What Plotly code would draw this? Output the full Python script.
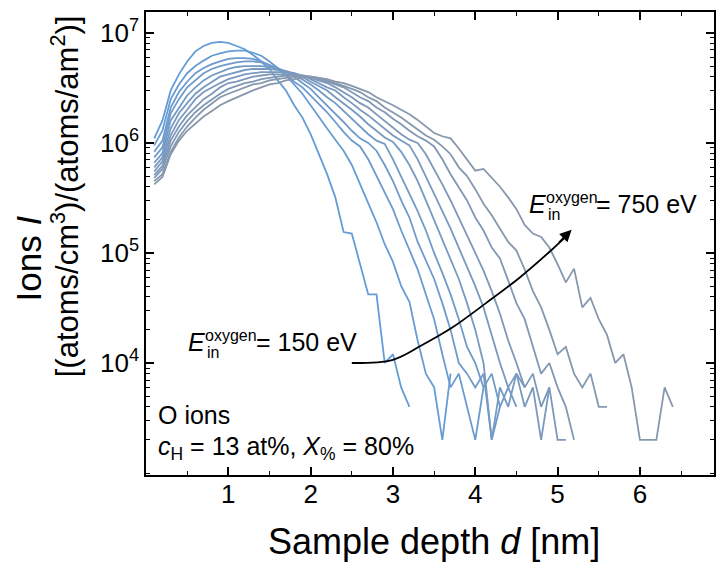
import plotly.graph_objects as go

# ---------------- data ----------------
depth_nm = [0.1, 0.2, 0.3, 0.4, 0.5, 0.6, 0.7, 0.8, 0.9, 1.0,
            1.1, 1.2, 1.3, 1.4, 1.5, 1.6, 1.7, 1.8, 1.9, 2.0,
            2.1, 2.2, 2.3, 2.4, 2.5, 2.6, 2.7, 2.8, 2.9, 3.0,
            3.1, 3.2, 3.3, 3.4, 3.5, 3.6, 3.7, 3.8, 3.9, 4.0,
            4.1, 4.2, 4.3, 4.4, 4.5, 4.6, 4.7, 4.8, 4.9, 5.0,
            5.1, 5.2, 5.3, 5.4, 5.5, 5.6, 5.7, 5.8, 5.9, 6.0,
            6.1, 6.2, 6.3, 6.4]

energies_eV = [150, 210, 270, 330, 390, 450, 510, 570, 630, 690, 750]

ions_150 = [1.1e6, 1.6e6, 3.0e6, 4.2e6, 5.5e6, 6.8e6, 7.6e6, 8.1e6, 8.3e6, 8.1e6,
            7.6e6, 7.1e6, 6.3e6, 5.5e6, 4.7e6, 3.7e6, 3.0e6, 2.2e6, 1.7e6, 1.2e6,
            7.9e5, 5.2e5, 3.2e5, 1.55e5, 1.5e5, 7.9e4, 4.2e4, 4.2e4, 1.0e4, 1.2e4,
            6000, 4000]
ions_210 = [9.5e5, 1.3e6, 2.5e6, 3.4e6, 4.3e6, 5.0e6, 5.6e6, 6.2e6, 6.5e6, 6.8e6,
            6.9e6, 6.9e6, 6.6e6, 6.2e6, 5.5e6, 4.8e6, 4.1e6, 3.4e6, 2.8e6, 2.2e6,
            1.7e6, 1.35e6, 1.07e6, 8.5e5, 6.3e5, 4.2e5, 2.8e5, 1.9e5, 1.2e5, 8.3e4,
            5.0e4, 3.6e4, 1.6e4, 8000, 6000, 2000, 8000]
ions_270 = [8.3e5, 1.05e6, 2.1e6, 2.9e6, 3.6e6, 4.3e6, 4.8e6, 5.2e6, 5.5e6, 5.8e6,
            5.9e6, 5.9e6, 5.8e6, 5.5e6, 5.1e6, 4.7e6, 4.2e6, 3.6e6, 3.2e6, 2.7e6,
            2.3e6, 1.9e6, 1.55e6, 1.26e6, 1.05e6, 9.3e5, 7.1e5, 5.0e5, 3.5e5, 2.5e5,
            1.6e5, 1.05e5, 7.1e4, 4.2e4, 2.5e4, 1.2e4, 6000, 8000, 4000, 2000,
            6000]
ions_330 = [7.4e5, 9.1e5, 1.86e6, 2.5e6, 3.2e6, 3.7e6, 4.3e6, 4.7e6, 5.0e6, 5.2e6,
            5.4e6, 5.5e6, 5.5e6, 5.4e6, 5.1e6, 4.8e6, 4.4e6, 4.0e6, 3.5e6, 3.1e6,
            2.6e6, 2.2e6, 1.86e6, 1.55e6, 1.29e6, 1.1e6, 1.0e6, 8.5e5, 6.3e5, 4.5e5,
            3.0e5, 2.1e5, 1.26e5, 8.5e4, 5.8e4, 3.5e4, 2.0e4, 1.0e4, 8000, 6000,
            8000, 2000, 4000]
ions_390 = [6.6e5, 8.1e5, 1.6e6, 2.1e6, 2.7e6, 3.2e6, 3.7e6, 4.1e6, 4.4e6, 4.7e6,
            4.9e6, 5.0e6, 5.0e6, 5.0e6, 4.9e6, 4.7e6, 4.5e6, 4.2e6, 3.8e6, 3.4e6,
            3.0e6, 2.6e6, 2.3e6, 1.95e6, 1.66e6, 1.41e6, 1.2e6, 1.05e6, 9.8e5, 7.1e5,
            5.0e5, 3.5e5, 2.4e5, 1.6e5, 1.0e5, 6.6e4, 4.2e4, 2.5e4, 1.4e4, 1.0e4,
            6000, 8000, 4000, 6000, 4000]
ions_450 = [6.0e5, 7.4e5, 1.35e6, 1.86e6, 2.3e6, 2.8e6, 3.2e6, 3.6e6, 4.0e6, 4.2e6,
            4.4e6, 4.6e6, 4.7e6, 4.7e6, 4.7e6, 4.6e6, 4.5e6, 4.3e6, 4.0e6, 3.6e6,
            3.3e6, 3.0e6, 2.6e6, 2.3e6, 2.0e6, 1.74e6, 1.48e6, 1.29e6, 1.12e6, 1.02e6,
            8.3e5, 6.3e5, 4.5e5, 3.0e5, 2.0e5, 1.3e5, 8.9e4, 5.8e4, 3.5e4, 2.0e4,
            1.0e4, 2000, 6000, 4000, 8000, 6000]
ions_510 = [5.5e5, 6.8e5, 1.17e6, 1.62e6, 2.0e6, 2.5e6, 2.9e6, 3.2e6, 3.5e6, 3.8e6,
            4.0e6, 4.2e6, 4.3e6, 4.4e6, 4.4e6, 4.4e6, 4.4e6, 4.3e6, 4.1e6, 3.8e6,
            3.5e6, 3.2e6, 3.0e6, 2.6e6, 2.3e6, 2.0e6, 1.78e6, 1.55e6, 1.35e6, 1.17e6,
            1.05e6, 9.5e5, 7.1e5, 5.0e5, 3.5e5, 2.4e5, 1.66e5, 1.12e5, 7.6e4, 5.0e4,
            3.2e4, 1.8e4, 1.0e4, 6000, 8000, 4000, 6000, 2000, 6000]
ions_570 = [5.1e5, 6.2e5, 1.05e6, 1.41e6, 1.78e6, 2.1e6, 2.5e6, 2.8e6, 3.2e6, 3.5e6,
            3.6e6, 3.8e6, 4.0e6, 4.1e6, 4.2e6, 4.2e6, 4.2e6, 4.2e6, 4.1e6, 3.9e6,
            3.7e6, 3.5e6, 3.2e6, 2.9e6, 2.6e6, 2.3e6, 2.1e6, 1.82e6, 1.58e6, 1.38e6,
            1.2e6, 1.07e6, 1.0e6, 7.9e5, 5.8e5, 4.2e5, 3.0e5, 2.1e5, 1.45e5, 1.0e5,
            6.9e4, 4.5e4, 2.8e4, 1.6e4, 1.0e4, 6000, 8000, 4000, 6000, 2000,
            2000]
ions_630 = [4.8e5, 5.8e5, 9.3e5, 1.26e6, 1.58e6, 1.9e6, 2.2e6, 2.5e6, 2.8e6, 3.1e6,
            3.3e6, 3.5e6, 3.6e6, 3.8e6, 3.9e6, 4.0e6, 4.1e6, 4.1e6, 4.1e6, 4.0e6,
            3.8e6, 3.6e6, 3.4e6, 3.2e6, 2.9e6, 2.6e6, 2.4e6, 2.1e6, 1.9e6, 1.66e6,
            1.48e6, 1.29e6, 1.15e6, 1.05e6, 9.3e5, 7.1e5, 5.2e5, 4.0e5, 3.0e5, 2.1e5,
            1.6e5, 1.12e5, 8.9e4, 5.6e4, 3.5e4, 2.5e4, 1.4e4, 8000, 1.0e4, 6000,
            4000, 2000]
ions_690 = [4.5e5, 5.2e5, 8.3e5, 1.12e6, 1.41e6, 1.7e6, 2.0e6, 2.3e6, 2.6e6, 2.8e6,
            3.0e6, 3.2e6, 3.4e6, 3.5e6, 3.7e6, 3.8e6, 3.9e6, 4.0e6, 4.0e6, 4.0e6,
            3.9e6, 3.7e6, 3.5e6, 3.3e6, 3.1e6, 2.9e6, 2.6e6, 2.4e6, 2.1e6, 1.9e6,
            1.7e6, 1.5e6, 1.32e6, 1.17e6, 1.07e6, 9.3e5, 7.9e5, 6.0e5, 5.0e5, 3.8e5,
            2.8e5, 2.2e5, 1.66e5, 1.26e5, 1.05e5, 7.1e4, 4.5e4, 3.2e4, 2.0e4, 1.2e4,
            1.4e4, 8000, 6000, 8000, 4000, 4000]
ions_750 = [4.2e5, 4.9e5, 7.9e5, 1.05e6, 1.29e6, 1.51e6, 1.74e6, 1.95e6, 2.2e6, 2.4e6,
            2.6e6, 2.8e6, 3.0e6, 3.2e6, 3.4e6, 3.5e6, 3.7e6, 3.8e6, 3.9e6, 4.0e6,
            3.9e6, 3.8e6, 3.6e6, 3.5e6, 3.3e6, 3.1e6, 2.9e6, 2.6e6, 2.4e6, 2.2e6,
            2.0e6, 1.82e6, 1.62e6, 1.41e6, 1.23e6, 1.15e6, 1.1e6, 8.9e5, 7.1e5, 5.6e5,
            5.8e5, 4.8e5, 4.0e5, 3.2e5, 2.5e5, 1.8e5, 1.5e5, 1.4e5, 1.12e5, 7.9e4,
            5.4e4, 7.2e4, 3.2e4, 3.9e4, 2.5e4, 1.8e4, 1.0e4, 1.2e4, 6000, 2000,
            2000, 2000, 6000, 4000]

series = [ions_150, ions_210, ions_270, ions_330, ions_390, ions_450,
          ions_510, ions_570, ions_630, ions_690, ions_750]

x_tick_vals = [1, 2, 3, 4, 5, 6]
y_tick_vals = [1e4, 1e5, 1e6, 1e7]
y_tick_text = ["10<sup>4</sup>", "10<sup>5</sup>", "10<sup>6</sup>", "10<sup>7</sup>"]

# guide arrow path (depth, ions) from low to high energy
arrow_depth = [2.50, 3.00, 3.35, 3.72, 4.13, 4.53, 4.93, 5.12]
arrow_ions = [1.0e4, 1.07e4, 1.45e4, 2.1e4, 3.5e4, 5.9e4, 1.07e5, 1.45e5]

# ---------------- style ----------------
FONT = "Liberation Sans, Arial, sans-serif"
c_start = (100, 156, 216)
c_end = (136, 151, 172)
n = len(series)

fig = go.Figure()
for i, vals in enumerate(series):
    t = i / (n - 1)
    col = tuple(round(c_start[k] + (c_end[k] - c_start[k]) * t) for k in range(3))
    fig.add_trace(go.Scatter(
        x=depth_nm[:len(vals)], y=vals, mode="lines",
        line=dict(color="rgb(%d,%d,%d)" % col, width=1.8),
        name="%d eV" % energies_eV[i], showlegend=False))

fig.add_trace(go.Scatter(x=arrow_depth, y=arrow_ions, mode="lines",
                         line=dict(color="black", width=1.8, shape="spline"),
                         showlegend=False, hoverinfo="skip"))

L, R, T, B = 146, 716, 12, 475
W, H = 717, 563


def px(xp):
    return (xp - L) / (R - L)


def py(yp):
    return (B - yp) / (B - T)


annotations = []


def text_at(txt, left, baseline, size, anchor="left", angle=0):
    annotations.append(dict(
        text=txt, xref="paper", yref="paper", x=px(left), y=py(baseline - 0.32 * size),
        xanchor=anchor, yanchor="middle", showarrow=False, textangle=angle,
        font=dict(family=FONT, size=size, color="black")))


# energy labels
for (ex, ey, lab) in [(186, 350, "= 150 eV"), (528, 212, "= 750 eV")]:
    text_at("<i>E</i>", ex, ey, 25)
    text_at("oxygen", ex + 17, ey - 9, 16)
    text_at("in", ex + 19, ey + 8, 16)
    text_at(lab, ex + 68, ey, 25)

text_at("O ions", 156, 423, 25)
text_at("<i>c</i><sub>H</sub> = 13 at%, <i>X</i><sub>%</sub> = 80%", 156, 456, 25)

# axis titles
annotations.append(dict(text="Sample depth <i>d</i> [nm]", xref="paper", yref="paper",
                        x=px(435), y=py(541), xanchor="center", yanchor="middle",
                        showarrow=False, font=dict(family=FONT, size=36, color="black")))
annotations.append(dict(text="Ions&nbsp;<i>I</i>", xref="paper", yref="paper",
                        x=px(28), y=py(258), xanchor="center", yanchor="middle",
                        showarrow=False, textangle=-90,
                        font=dict(family=FONT, size=35, color="black")))
annotations.append(dict(text="[(atoms/cm<sup>3</sup>)/(atoms/am<sup>2</sup>)]",
                        xref="paper", yref="paper",
                        x=px(65), y=py(196), xanchor="center", yanchor="middle",
                        showarrow=False, textangle=-90,
                        font=dict(family=FONT, size=31, color="black")))

# arrow head at end of guide curve
annotations.append(dict(x=5.17, y=5.21, xref="x", yref="y", ax=-14, ay=14,
                        text="", showarrow=True, arrowhead=2, arrowsize=1.3,
                        arrowwidth=1.8, arrowcolor="black", standoff=0))

axis_common = dict(showline=True, linecolor="black", linewidth=1.6, mirror="ticks",
                   ticks="inside", ticklen=8, tickwidth=1.6, tickcolor="black",
                   showgrid=False, zeroline=False,
                   tickfont=dict(family=FONT, size=26, color="black"))

fig.update_layout(
    width=W, height=H,
    margin=dict(l=L, r=W - R, t=T, b=H - B),
    paper_bgcolor="white", plot_bgcolor="white",
    showlegend=False,
    annotations=annotations,
    xaxis=dict(range=[0, 6.9], tickvals=x_tick_vals, ticklabelstandoff=-5,
               minor=dict(ticks="inside", ticklen=4, tickwidth=1.4, tickcolor="black",
                          dtick=0.5, tick0=0.5, showgrid=False),
               **axis_common),
    yaxis=dict(type="log", range=[2.982, 7.19], tickvals=y_tick_vals, ticktext=y_tick_text,
               minor=dict(ticks="inside", ticklen=4, tickwidth=1.4, tickcolor="black",
                          dtick="D1", showgrid=False),
               **axis_common),
)

fig.write_html("out.html", config={"displayModeBar": False},
               post_script="document.body.style.margin='0';")
